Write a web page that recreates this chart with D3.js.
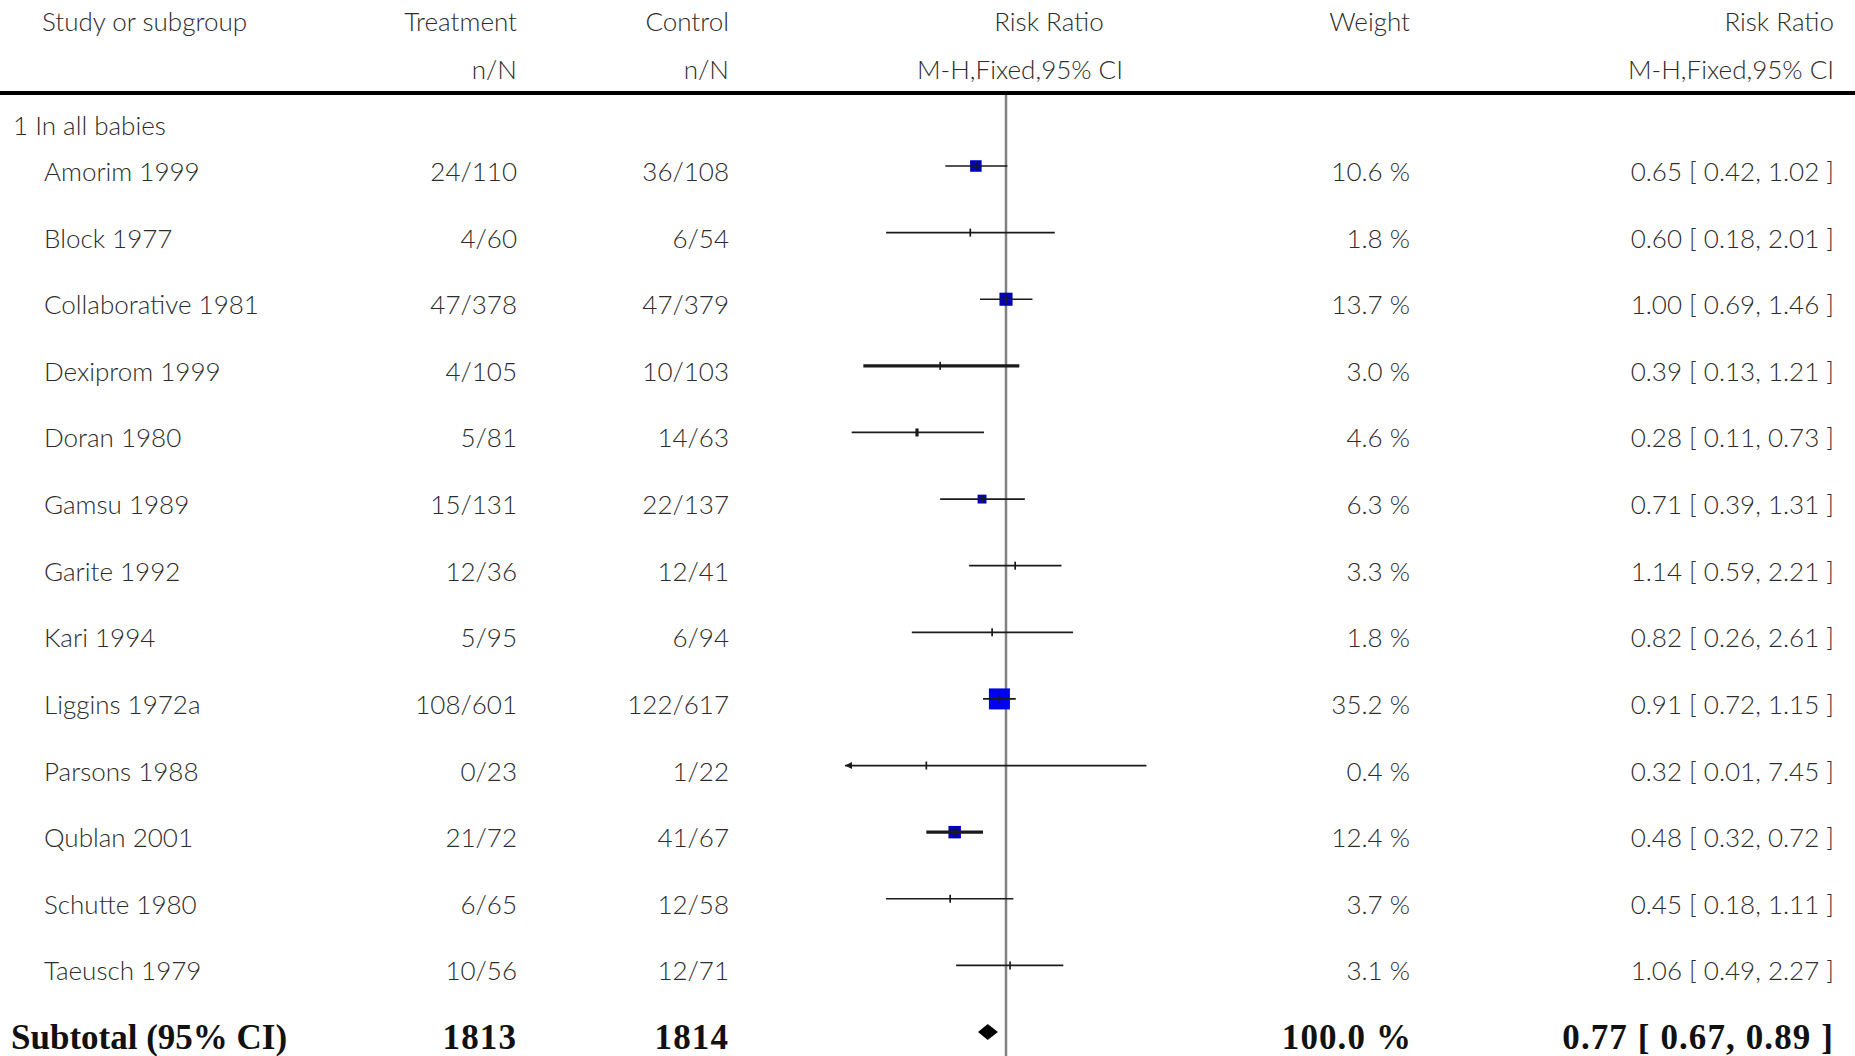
<!DOCTYPE html>
<html>
<head>
<meta charset="utf-8">
<script src="https://cdn.jsdelivr.net/npm/d3@7"></script>
<style>
  html, body { margin: 0; padding: 0; background: #fff; }
  svg { display: block; }
</style>
</head>
<body>
<svg id="chart" width="1855" height="1056"></svg>
<script>
// Antenatal corticosteroids: forest plot, risk ratio (M-H, fixed effect)
const headerTop = ["Study or subgroup", "Treatment", "Control", "Risk Ratio", "Weight", "Risk Ratio"];
const headerSub = ["", "n/N", "n/N", "M-H,Fixed,95% CI", "", "M-H,Fixed,95% CI"];
const groupLabel = "1 In all babies";

const studies = ["Amorim 1999", "Block 1977", "Collaborative 1981", "Dexiprom 1999", "Doran 1980",
  "Gamsu 1989", "Garite 1992", "Kari 1994", "Liggins 1972a", "Parsons 1988", "Qublan 2001",
  "Schutte 1980", "Taeusch 1979"];
const treatEvents = [24, 4, 47, 4, 5, 15, 12, 5, 108, 0, 21, 6, 10];
const treatTotal  = [110, 60, 378, 105, 81, 131, 36, 95, 601, 23, 72, 65, 56];
const ctrlEvents  = [36, 6, 47, 10, 14, 22, 12, 6, 122, 1, 41, 12, 12];
const ctrlTotal   = [108, 54, 379, 103, 63, 137, 41, 94, 617, 22, 67, 58, 71];
const weights     = [10.6, 1.8, 13.7, 3.0, 4.6, 6.3, 3.3, 1.8, 35.2, 0.4, 12.4, 3.7, 3.1];
const riskRatio   = [0.65, 0.60, 1.00, 0.39, 0.28, 0.71, 1.14, 0.82, 0.91, 0.32, 0.48, 0.45, 1.06];
const ciLower     = [0.42, 0.18, 0.69, 0.13, 0.11, 0.39, 0.59, 0.26, 0.72, 0.01, 0.32, 0.18, 0.49];
const ciUpper     = [1.02, 2.01, 1.46, 1.21, 0.73, 1.31, 2.21, 2.61, 1.15, 7.45, 0.72, 1.11, 2.27];

const subtotalLabel = "Subtotal (95% CI)";
const subtotalTreat = 1813;
const subtotalCtrl = 1814;
const subtotalWeight = 100.0;
const subtotalRR = 0.77;
const subtotalLower = 0.67;
const subtotalUpper = 0.89;

// ---- layout & styling ----
const W = 1855, H = 1056;
const svg = d3.select("#chart");
const sans = "Lato, 'Open Sans', sans-serif";
const serif = "'Liberation Serif', 'DejaVu Serif', serif";
const textColor = "#2c2c2c";
const fontSize = 26;
const fontWeight = 300;

const col = { study: 44, group: 13, treat: 517, ctrl: 729, weight: 1410, ci: 1834 };

const x = d3.scaleLog().domain([0.1, 10]).range([845, 1167]);
const rowKeys = studies.concat([subtotalLabel]);
const y = d3.scalePoint().domain(rowKeys).range([166, 1032]);
const box = d3.scaleSqrt().domain([0, 35.2]).range([0, 21]);
const textDy = 15;

// a few rows were rendered with heavier strokes
const lineWidth = { "Dexiprom 1999": 3.4, "Qublan 2001": 3.4 };
const tickWidth = { "Doran 1980": 3.2 };

const f2 = d3.format(".2f");
const f1 = d3.format(".1f");

const rows = studies.map((s, i) => ({
  study: s, te: treatEvents[i], tn: treatTotal[i], ce: ctrlEvents[i], cn: ctrlTotal[i],
  w: weights[i], rr: riskRatio[i], lo: ciLower[i], hi: ciUpper[i]
}));

// ---- header ----
const head = svg.append("g").attr("font-family", sans).attr("font-size", fontSize)
  .attr("font-weight", fontWeight).attr("fill", textColor);
head.append("text").attr("x", 42).attr("y", 31).text(headerTop[0]);
head.append("text").attr("x", col.treat).attr("y", 31).attr("text-anchor", "end").text(headerTop[1]);
head.append("text").attr("x", col.ctrl).attr("y", 31).attr("text-anchor", "end").text(headerTop[2]);
head.append("text").attr("x", 1049).attr("y", 31).attr("text-anchor", "middle").text(headerTop[3]);
head.append("text").attr("x", col.weight).attr("y", 31).attr("text-anchor", "end").text(headerTop[4]);
head.append("text").attr("x", col.ci).attr("y", 31).attr("text-anchor", "end").text(headerTop[5]);
head.append("text").attr("x", col.treat).attr("y", 79).attr("text-anchor", "end").text(headerSub[1]);
head.append("text").attr("x", col.ctrl).attr("y", 79).attr("text-anchor", "end").text(headerSub[2]);
head.append("text").attr("x", 1020).attr("y", 79).attr("text-anchor", "middle").text(headerSub[3]);
head.append("text").attr("x", col.ci).attr("y", 79).attr("text-anchor", "end").text(headerSub[5]);

svg.append("line").attr("x1", 0).attr("x2", W).attr("y1", 93).attr("y2", 93)
  .attr("stroke", "#000").attr("stroke-width", 4);

// ---- line of no effect ----
svg.append("line").attr("x1", x(1)).attr("x2", x(1)).attr("y1", 95).attr("y2", H)
  .attr("stroke", "#808080").attr("stroke-width", 2.5);

// ---- group label ----
svg.append("text").attr("x", col.group).attr("y", 135)
  .attr("font-family", sans).attr("font-size", fontSize).attr("font-weight", fontWeight)
  .attr("fill", textColor).text(groupLabel);

// ---- study rows ----
const g = svg.append("g").attr("font-family", sans).attr("font-size", fontSize)
  .attr("font-weight", fontWeight).attr("fill", textColor);
const r = g.selectAll("g.row").data(rows).enter().append("g").attr("class", "row");

r.append("text").attr("x", col.study).attr("y", d => y(d.study) + textDy).text(d => d.study);
r.append("text").attr("x", col.treat).attr("y", d => y(d.study) + textDy).attr("text-anchor", "end")
  .text(d => `${d.te}/${d.tn}`);
r.append("text").attr("x", col.ctrl).attr("y", d => y(d.study) + textDy).attr("text-anchor", "end")
  .text(d => `${d.ce}/${d.cn}`);
r.append("text").attr("x", col.weight).attr("y", d => y(d.study) + textDy).attr("text-anchor", "end")
  .text(d => `${f1(d.w)} %`);
r.append("text").attr("x", col.ci).attr("y", d => y(d.study) + textDy).attr("text-anchor", "end")
  .text(d => `${f2(d.rr)} [ ${f2(d.lo)}, ${f2(d.hi)} ]`);

// weight boxes (too small to show for light studies)
r.filter(d => box(d.w) >= 8.5).append("rect")
  .attr("x", d => x(d.rr) - box(d.w) / 2).attr("y", d => y(d.study) - box(d.w) / 2)
  .attr("width", d => box(d.w)).attr("height", d => box(d.w))
  .attr("fill", d => d.w > 20 ? "#0000f0" : "#0000b4");

// confidence intervals, clipped to the axis range
const [xMin, xMax] = x.domain();
r.append("line")
  .attr("x1", d => x(Math.max(d.lo, xMin))).attr("x2", d => x(Math.min(d.hi, xMax)))
  .attr("y1", d => y(d.study)).attr("y2", d => y(d.study))
  .attr("stroke", "#1a1a1a").attr("stroke-width", d => lineWidth[d.study] || 1.7);

r.filter(d => d.lo < xMin).append("path")
  .attr("d", d => {
    const x0 = x(xMin), y0 = y(d.study);
    return `M${x0},${y0} L${x0 + 7},${y0 - 3.5} L${x0 + 7},${y0 + 3.5} Z`;
  })
  .attr("fill", "#1a1a1a");

// point estimate tick
r.append("line")
  .attr("x1", d => x(d.rr)).attr("x2", d => x(d.rr))
  .attr("y1", d => y(d.study) - 4).attr("y2", d => y(d.study) + 4)
  .attr("stroke", "#1a1a1a").attr("stroke-width", d => tickWidth[d.study] || 1.7);

// ---- subtotal ----
const ys = y(subtotalLabel);
const sub = svg.append("g").attr("font-family", serif).attr("font-weight", "bold")
  .attr("font-size", 35).attr("fill", "#111");
sub.append("text").attr("x", 11).attr("y", ys + 17).text(subtotalLabel);
const subNums = sub.append("g").attr("letter-spacing", 1.1).attr("text-anchor", "end");
subNums.append("text").attr("x", col.treat).attr("y", ys + 17).text(subtotalTreat);
subNums.append("text").attr("x", col.ctrl).attr("y", ys + 17).text(subtotalCtrl);
subNums.append("text").attr("x", col.weight + 2).attr("y", ys + 17).text(`${f1(subtotalWeight)} %`);
subNums.append("text").attr("x", col.ci).attr("y", ys + 17)
  .text(`${f2(subtotalRR)} [ ${f2(subtotalLower)}, ${f2(subtotalUpper)} ]`);

svg.append("path")
  .attr("d", `M${x(subtotalLower)},${ys} L${x(subtotalRR)},${ys - 8} L${x(subtotalUpper)},${ys} L${x(subtotalRR)},${ys + 8} Z`)
  .attr("fill", "#000");
</script>
</body>
</html>
